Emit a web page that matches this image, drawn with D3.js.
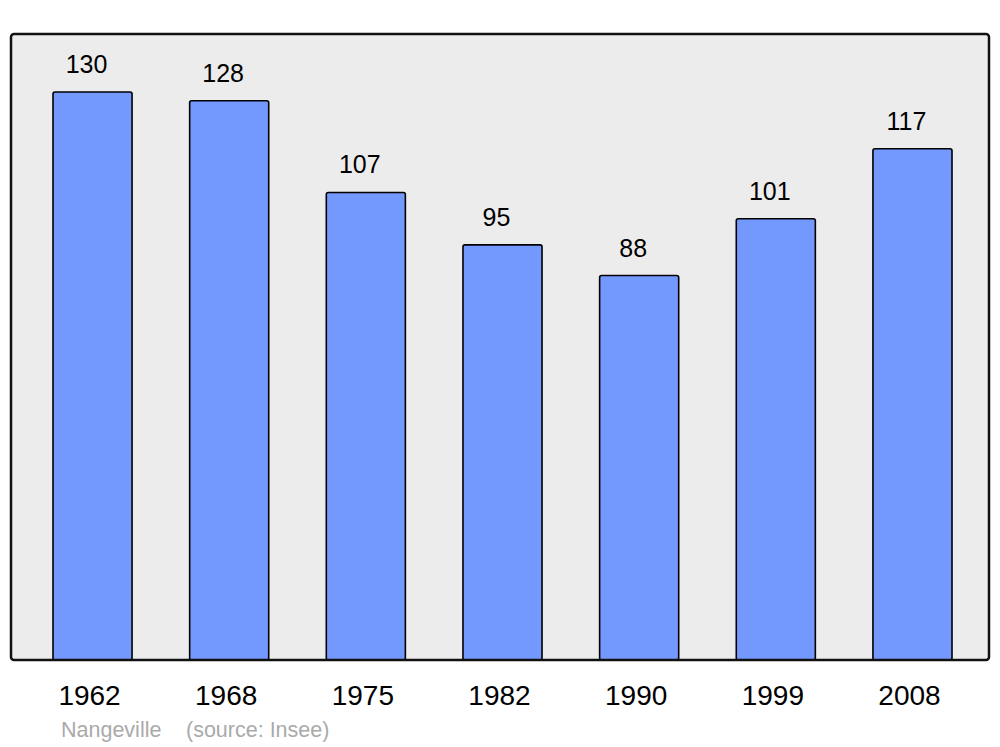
<!DOCTYPE html>
<html>
<head>
<meta charset="utf-8">
<script src="https://cdn.jsdelivr.net/npm/d3@7"></script>
<style>
  body { margin: 0; background: #fff; }
  svg text { font-family: "Liberation Sans", Arial, sans-serif; }
</style>
</head>
<body>
<div id="container"></div>
<script>
/* DATA */
const years = ["1962", "1968", "1975", "1982", "1990", "1999", "2008"]
const population = [130, 128, 107, 95, 88, 101, 117]
const caption = ["Nangeville", "(source: Insee)"]

/* CONSTANTS */
const width = 1000,
  height = 747,
  panel = { left: 11, top: 34, right: 989, bottom: 660 }

const svg = d3.select("#container")
  .append("svg")
  .attr("width", width)
  .attr("height", height)

// scales
const xScale = d3.scaleBand()
  .domain(years)
  .range([53, 952])
  .paddingInner(0.4215)
  .paddingOuter(0)

const yScale = d3.scaleLinear()
  .domain([0, 130])
  .range([panel.bottom, 92])

// background panel fill
svg.append("rect")
  .attr("x", panel.left)
  .attr("y", panel.top)
  .attr("width", panel.right - panel.left)
  .attr("height", panel.bottom - panel.top)
  .attr("rx", 3)
  .attr("fill", "#ececec")

const data = years.map((y, i) => ({ year: y, value: population[i] }))

// bars
svg.selectAll(".bar")
  .data(data)
  .join("rect")
  .attr("class", "bar")
  .attr("x", d => xScale(d.year))
  .attr("y", d => yScale(d.value))
  .attr("width", xScale.bandwidth())
  .attr("height", d => yScale(0) - yScale(d.value))
  .attr("rx", 2)
  .attr("fill", "#7399ff")
  .attr("stroke", "#000")
  .attr("stroke-width", 1.6)

// panel border on top of bars
svg.append("rect")
  .attr("x", panel.left)
  .attr("y", panel.top)
  .attr("width", panel.right - panel.left)
  .attr("height", panel.bottom - panel.top)
  .attr("rx", 3)
  .attr("fill", "none")
  .attr("stroke", "#111")
  .attr("stroke-width", 2.5)

// value labels
svg.selectAll(".val")
  .data(data)
  .join("text")
  .attr("class", "val")
  .attr("x", d => xScale(d.year) + xScale.bandwidth() / 2 - 6)
  .attr("y", d => yScale(d.value) - 19)
  .attr("text-anchor", "middle")
  .attr("font-size", 25)
  .attr("fill", "#000")
  .text(d => d.value)

// x axis
const xAxis = d3.axisBottom(xScale).tickSize(0).tickPadding(0)
const gx = svg.append("g")
  .attr("transform", `translate(-3,${panel.bottom})`)
  .call(xAxis)
gx.select(".domain").remove()
gx.selectAll("text")
  .attr("font-size", 28)
  .attr("font-family", "Liberation Sans, Arial, sans-serif")
  .attr("fill", "#000")
  .attr("dy", null)
  .attr("y", 45)

// caption
svg.append("text")
  .attr("x", 61)
  .attr("y", 737)
  .attr("font-size", 21.5)
  .attr("fill", "#aaa")
  .text(caption[0])

svg.append("text")
  .attr("x", 186)
  .attr("y", 737)
  .attr("font-size", 21.5)
  .attr("fill", "#aaa")
  .text(caption[1])
</script>
</body>
</html>
